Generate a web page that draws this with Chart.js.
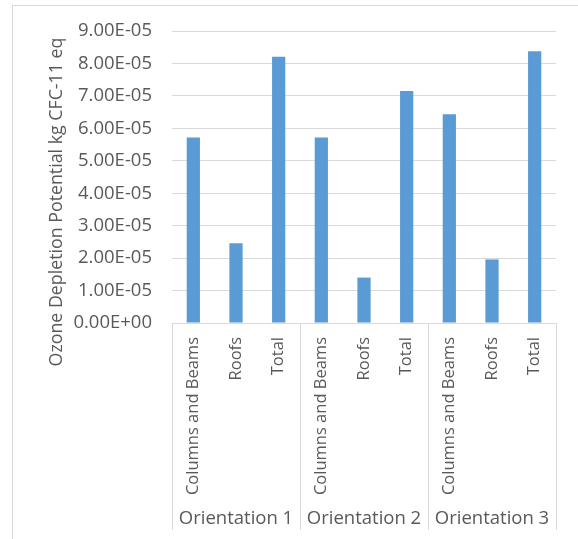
<!DOCTYPE html>
<html>
<head>
<meta charset="utf-8">
<script src="https://cdn.jsdelivr.net/npm/chart.js@4/dist/chart.umd.min.js"></script>
<style>
  html, body { margin: 0; padding: 0; background: #fff; overflow: hidden; }
  #wrap { position: relative; width: 578px; height: 539px; }
  #frame { position: absolute; left: 12px; top: 5px; width: 640px; height: 640px;
           border: 1px solid #d9d9d9; box-sizing: border-box; }
  canvas { position: absolute; left: 0; top: 0; }
</style>
</head>
<body>
<div id="wrap">
  <div id="frame"></div>
  <canvas id="c" width="578" height="539"></canvas>
</div>
<script>
// Orientations and the building parts measured in each one
const groups = ['Orientation 1', 'Orientation 2', 'Orientation 3'];
const parts = ['Columns and Beams', 'Roofs', 'Total'];
// Ozone depletion potential, kg CFC-11 eq (group by group, part by part)
const odpValues = [
  5.72e-5, 2.46e-5, 8.21e-5,
  5.72e-5, 1.40e-5, 7.15e-5,
  6.44e-5, 1.96e-5, 8.38e-5
];
const yMin = 0;
const yMax = 9e-5;
const yStep = 1e-5;
const yTitle = 'Ozone Depletion Potential kg CFC-11 eq';

const textColor = '#595959';
const lineColor = '#d9d9d9';
const barColor = '#5b9bd5';
const fontFamily = '"Open Sans", "Liberation Sans", sans-serif';

const categoryLabels = groups.flatMap(() => parts);

// Excel-style scientific notation: 9.00E-05, 0.00E+00
function sci(v) {
  if (Math.abs(v) < 1e-12) return '0.00E+00';
  const [m, e] = v.toExponential(2).split('e');
  const n = parseInt(e, 10);
  return m + 'E' + (n < 0 ? '-' : '+') + String(Math.abs(n)).padStart(2, '0');
}

// Vertical dividers between the orientation groups below the axis
const groupDividers = {
  id: 'groupDividers',
  afterDraw(chart) {
    const { ctx, chartArea } = chart;
    const x = chart.scales.x;
    const step = x.getPixelForValue(1) - x.getPixelForValue(0);
    ctx.save();
    ctx.strokeStyle = lineColor;
    ctx.lineWidth = 1;
    for (let k = 0; k <= groups.length; k++) {
      const px = Math.round(x.getPixelForValue(k * parts.length) - step / 2) + 0.5;
      ctx.beginPath();
      ctx.moveTo(px, chartArea.bottom);
      ctx.lineTo(px, chart.height - 9);
      ctx.stroke();
    }
    ctx.restore();
  }
};

// Rotated value-axis title
const valueAxisTitle = {
  id: 'valueAxisTitle',
  afterDraw(chart) {
    const { ctx, chartArea } = chart;
    ctx.save();
    ctx.translate(57, chartArea.bottom - 121);
    ctx.rotate(-Math.PI / 2);
    ctx.fillStyle = textColor;
    ctx.font = '17.8px ' + fontFamily;
    ctx.textAlign = 'center';
    ctx.textBaseline = 'middle';
    ctx.fillText(yTitle, 0, 0);
    ctx.restore();
  }
};

new Chart(document.getElementById('c'), {
  type: 'bar',
  data: {
    labels: categoryLabels,
    datasets: [{
      data: odpValues,
      backgroundColor: barColor,
      borderWidth: 0,
      barPercentage: 0.31,
      categoryPercentage: 1.0
    }]
  },
  options: {
    responsive: false,
    animation: false,
    devicePixelRatio: 1,
    layout: { padding: { left: 0, top: 27, right: 22, bottom: 0 } },
    plugins: {
      legend: { display: false },
      tooltip: { enabled: false }
    },
    scales: {
      y: {
        min: yMin,
        max: yMax,
        ticks: {
          stepSize: yStep,
          color: textColor,
          font: { family: fontFamily, size: 18.5 },
          padding: 20,
          callback: (v) => sci(v)
        },
        grid: { color: lineColor, lineWidth: 1, drawTicks: false },
        border: { display: false },
        afterFit(scale) { scale.width = 172; }
      },
      x: {
        ticks: {
          color: textColor,
          font: { family: fontFamily, size: 16.5 },
          minRotation: 90,
          maxRotation: 90,
          autoSkip: false,
          padding: 6
        },
        grid: { display: false },
        border: { display: true, color: lineColor, width: 1 },
        afterFit(scale) { scale.height = 175; }
      },
      x2: {
        type: 'category',
        labels: groups,
        position: 'bottom',
        offset: true,
        ticks: {
          color: textColor,
          font: { family: fontFamily, size: 18.5 },
          maxRotation: 0,
          autoSkip: false,
          padding: 2
        },
        grid: { display: false },
        border: { display: false },
        afterFit(scale) { scale.height = 41; }
      }
    }
  },
  plugins: [groupDividers, valueAxisTitle]
});
</script>
</body>
</html>
